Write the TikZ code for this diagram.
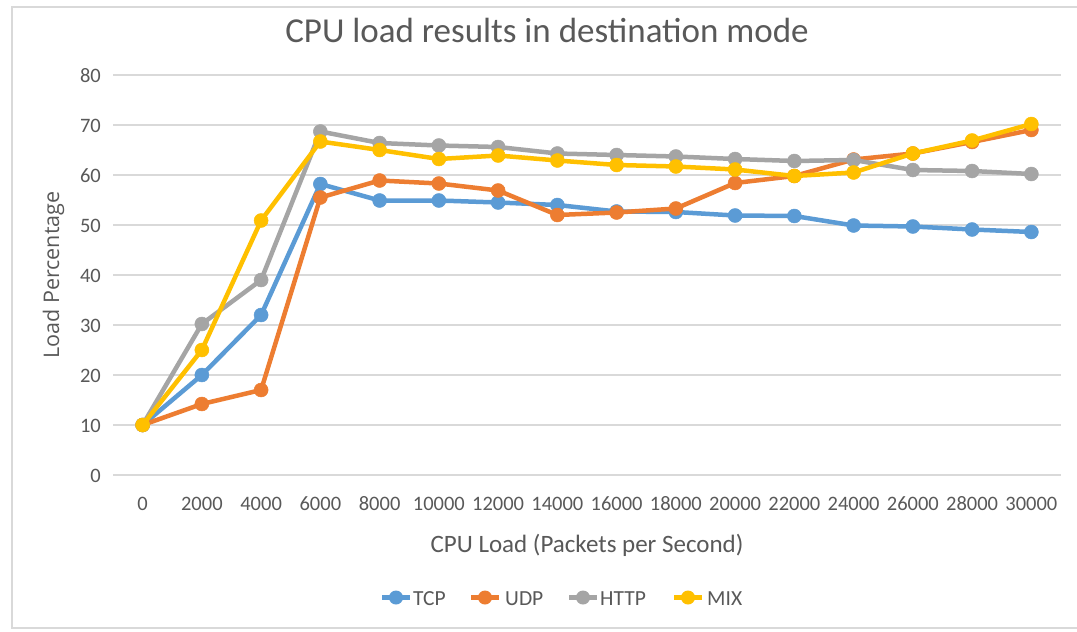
\documentclass[tikz,border=0pt]{standalone}
\usepackage{fontspec}
\setmainfont{Carlito}
\newfontfamily\axisfont{Open Sans}
\definecolor{tcpc}{HTML}{5B9BD5}
\definecolor{udpc}{HTML}{ED7D31}
\definecolor{httpc}{HTML}{A5A5A5}
\definecolor{mixc}{HTML}{FFC000}
\definecolor{txt}{HTML}{595959}
\definecolor{gridc}{HTML}{D9D9D9}
\tikzset{
  gridline/.style={draw=gridc, line width=1.6pt},
  frameline/.style={draw=gridc, line width=1.4pt},
  series/.style={line width=4.5pt, line join=round, line cap=round, draw=#1,
    mark=*, mark size=7pt, mark options={fill=#1, draw=#1, line width=0.5pt}},
  ticklab/.style={text=txt, font=\fontsize{20.5}{24}\selectfont, inner sep=0pt},
  legtext/.style={text=txt, font=\fontsize{21.5}{25}\selectfont, inner sep=0pt, anchor=base west},
}
\begin{document}
\begin{tikzpicture}[x=1pt, y=-1pt]
  \useasboundingbox[fill=white] (0,0) rectangle (1077,632);
  % chart frame
  \draw[frameline] (1077,7) -- (12,7) -- (12,628) -- (1077,628);
  % title
  \node[text=txt, font=\fontsize{35}{40}\selectfont, inner sep=0pt, anchor=base] (title) at (547,42.5) {CPU load results in destination mode};
  % horizontal gridlines and value labels
  \foreach \v in {0,10,...,80} {
    \draw[gridline] (113,{475-5*\v}) -- (1061,{475-5*\v});
    \node[ticklab, anchor=base east] (yl\v) at (101,{475-5*\v+7}) {\v};
  }
  % category labels (thousands of packets per second)
  \foreach \i in {0,...,15} {
    \pgfmathtruncatemacro{\k}{2*\i}
    \node[ticklab, anchor=base] (xl\i) at ({142.6+59.25*\i},510) {\ifnum\i=0 0\else\k000\fi};
  }
  % axis titles
  \node[text=txt, font=\fontsize{25}{30}\selectfont, inner sep=0pt, anchor=base] (xtitle) at (587,552) {CPU Load (Packets per Second)};
  \node[text=txt, font=\axisfont\fontsize{21.5}{26}\selectfont, inner sep=0pt, anchor=base, rotate=90] (ytitle) at (59,275) {Load Percentage};
  % data series
  \begin{scope}[shift={(142.6,475)}, x=59.25pt, y=5pt]
    \draw[series=tcpc] plot coordinates {(0,10) (1,20) (2,32) (3,58.2) (4,54.9) (5,54.9) (6,54.5) (7,54) (8,52.7) (9,52.6) (10,51.9) (11,51.8) (12,49.9) (13,49.7) (14,49.1) (15,48.6)};
    \draw[series=udpc] plot coordinates {(0,10) (1,14.2) (2,17) (3,55.5) (4,58.9) (5,58.3) (6,56.9) (7,52) (8,52.5) (9,53.3) (10,58.4) (11,59.8) (12,63.1) (13,64.3) (14,66.6) (15,69)};
    \draw[series=httpc] plot coordinates {(0,10) (1,30.2) (2,39) (3,68.7) (4,66.4) (5,65.9) (6,65.6) (7,64.3) (8,64) (9,63.7) (10,63.2) (11,62.8) (12,63) (13,61) (14,60.8) (15,60.2)};
    \draw[series=mixc] plot coordinates {(0,10) (1,25) (2,50.9) (3,66.7) (4,65) (5,63.2) (6,63.9) (7,62.9) (8,62) (9,61.7) (10,61.1) (11,59.8) (12,60.5) (13,64.3) (14,66.9) (15,70.2)};
  \end{scope}
  % legend
  \foreach \mx/\tx/\c/\name in {396/413/tcpc/TCP, 485/505/udpc/UDP, 583/600/httpc/HTTP, 688/707/mixc/MIX} {
    \draw[line width=4.5pt, draw=\c] (\mx-14,597.5) -- (\mx+14,597.5);
    \fill[\c] (\mx,597.5) circle (7);
    \node[legtext] (leg\name) at (\tx,605.5) {\name};
  }
\end{tikzpicture}
\end{document}
